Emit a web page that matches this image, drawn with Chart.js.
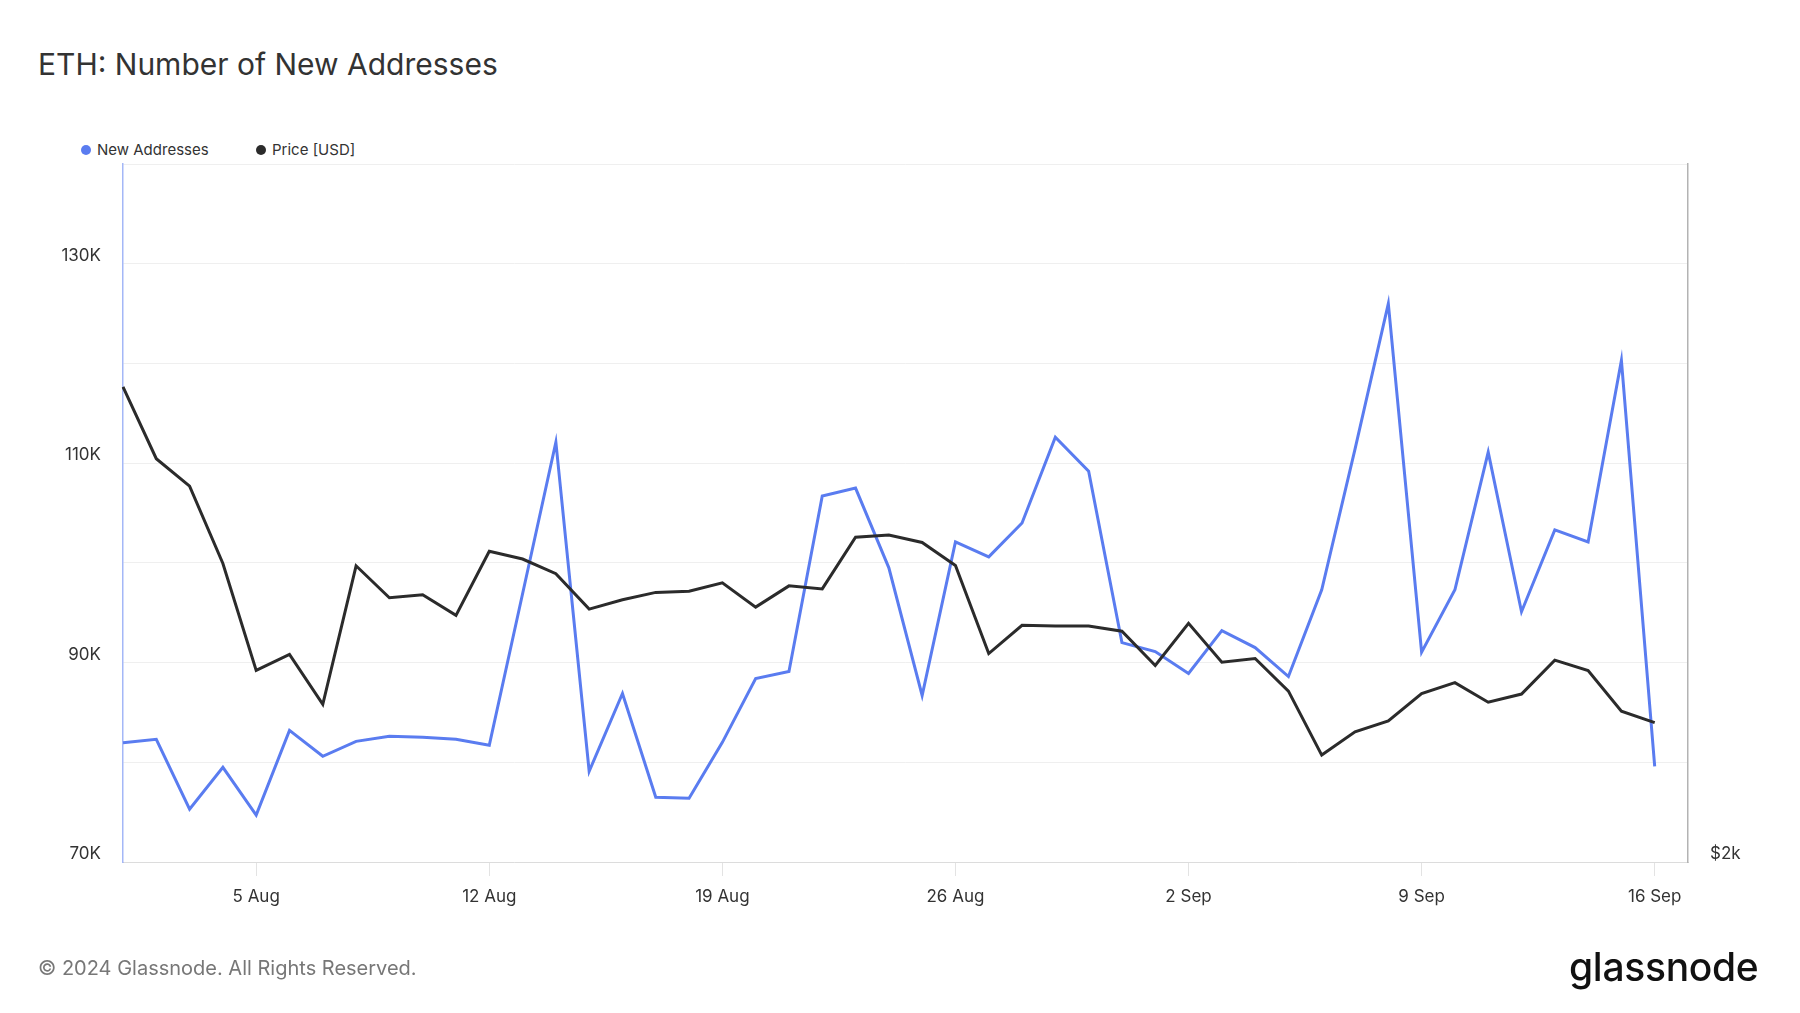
<!DOCTYPE html>
<html>
<head>
<meta charset="utf-8">
<script src="https://cdn.jsdelivr.net/npm/chart.js@4.4.1/dist/chart.umd.min.js"></script>
<style>
    html, body { margin: 0; padding: 0; background: #fff; }
    body { width: 1800px; height: 1013px; position: relative; overflow: hidden; font-family: Inter, 'Noto Sans', sans-serif; }
    #chart { position: absolute; left: 0; top: 0; }
    .title { position: absolute; left: 38px; top: 46px; font-size: 30px; color: #333; }
    .legend { position: absolute; top: 140px; font-size: 15px; color: #333; display: flex; align-items: center; }
    .legend span.dot { width: 10px; height: 10px; border-radius: 50%; display: inline-block; margin-right: 6px; }
    .footer { position: absolute; left: 38px; top: 956px; font-size: 20px; color: #777; }
    .logo { position: absolute; left: 1569px; top: 943px; font-size: 39px; font-weight: 500; color: #111; letter-spacing: -0.3px; }
</style>
</head>
<body>
<div class="title">ETH: Number of New Addresses</div>
<div class="legend" style="left:81px"><span class="dot" style="background:#5a7cf0"></span>New Addresses</div>
<div class="legend" style="left:256px"><span class="dot" style="background:#2b2b2b"></span>Price [USD]</div>
<canvas id="chart" width="1800" height="1013"></canvas>
<div class="footer">© 2024 Glassnode. All Rights Reserved.</div>
<div class="logo">glassnode</div>

<script>
// Daily data, 1 Aug - 16 Sep 2024 (last slot left empty like the reference)
const days = [
    '1 Aug', '2 Aug', '3 Aug', '4 Aug', '5 Aug', '6 Aug', '7 Aug', '8 Aug', '9 Aug', '10 Aug',
    '11 Aug', '12 Aug', '13 Aug', '14 Aug', '15 Aug', '16 Aug', '17 Aug', '18 Aug', '19 Aug', '20 Aug',
    '21 Aug', '22 Aug', '23 Aug', '24 Aug', '25 Aug', '26 Aug', '27 Aug', '28 Aug', '29 Aug', '30 Aug',
    '31 Aug', '1 Sep', '2 Sep', '3 Sep', '4 Sep', '5 Sep', '6 Sep', '7 Sep', '8 Sep', '9 Sep',
    '10 Sep', '11 Sep', '12 Sep', '13 Sep', '14 Sep', '15 Sep', '16 Sep', '17 Sep'
];
const tickDays = ['5 Aug', '12 Aug', '19 Aug', '26 Aug', '2 Sep', '9 Sep', '16 Sep'];

const newAddresses = [
    81970, 82300, 75300, 79500, 74700, 83200, 80600, 82100, 82600, 82500,
    82300, 81700, 96900, 112100, 79100, 86900, 76500, 76400, 82000, 88400,
    89100, 106700, 107500, 99500, 86700, 102100, 100600, 104000, 112600, 109200,
    92000, 91100, 88900, 93200, 91500, 88600, 97300, 111400, 126000, 91050,
    97300, 111100, 95100, 103300, 102100, 120300, 79600, null
];
const priceUsd = [
    3206, 2985, 2905, 2690, 2419, 2458, 2339, 2684, 2600, 2608,
    2555, 2723, 2702, 2663, 2571, 2595, 2614, 2617, 2639, 2576,
    2631, 2623, 2761, 2767, 2747, 2685, 2460, 2530, 2528, 2528,
    2515, 2431, 2535, 2439, 2448, 2370, 2224, 2276, 2301, 2364,
    2390, 2344, 2363, 2444, 2419, 2323, 2297, null
];
const leftTickLabels = [70000, 90000, 110000, 130000];

const colors = {
    blue: '#5a7cf0',
    black: '#2b2b2b',
    grid: '#efefef',
    text: '#333'
};

Chart.defaults.font.family = 'Inter, "Noto Sans", sans-serif';
Chart.defaults.font.size = 17;
Chart.defaults.color = colors.text;

new Chart(document.getElementById('chart'), {
    type: 'line',
    data: {
        labels: days,
        datasets: [
            {
                label: 'Price [USD]',
                data: priceUsd,
                yAxisID: 'price',
                borderColor: colors.black,
                borderWidth: 3,
                pointRadius: 0,
                tension: 0
            },
            {
                label: 'New Addresses',
                data: newAddresses,
                yAxisID: 'y',
                borderColor: colors.blue,
                borderWidth: 3,
                pointRadius: 0,
                tension: 0
            }
        ]
    },
    options: {
        responsive: false,
        animation: false,
        layout: { padding: { top: 164, left: 0, right: 0, bottom: 0 } },
        plugins: {
            legend: { display: false },
            tooltip: { enabled: false }
        },
        scales: {
            x: {
                grid: {
                    drawOnChartArea: false,
                    tickLength: 14,
                    // tick marks only under the labelled Mondays
                    color: (ctx) => tickDays.includes(days[ctx.index]) ? '#e3e3e3' : 'rgba(0,0,0,0)'
                },
                border: { color: '#dcdcdc' },
                ticks: {
                    autoSkip: false,
                    maxRotation: 0,
                    padding: 11,
                    callback: function (value) {
                        const lbl = this.getLabelForValue(value);
                        return tickDays.includes(lbl) ? lbl : '';
                    }
                },
                afterFit: (scale) => { scale.height = 151; }
            },
            y: {
                position: 'left',
                min: 70000,
                max: 140000,
                grid: { color: colors.grid, drawTicks: false },
                border: { color: 'rgba(90, 124, 240, 0.55)', width: 1.5 },
                ticks: {
                    stepSize: 10000,
                    padding: 22,
                    labelOffset: -8,
                    callback: (value) => leftTickLabels.includes(value) ? (value / 1000) + 'K' : ''
                },
                afterFit: (scale) => { scale.width = 123; }
            },
            price: {
                type: 'logarithmic',
                position: 'right',
                min: 2000,
                max: 4000,
                grid: { drawOnChartArea: false, drawTicks: false },
                border: { color: '#b3b3b3', width: 1.5 },
                ticks: {
                    padding: 22,
                    labelOffset: -8,
                    callback: (value) => '$' + (value / 1000) + 'k'
                },
                afterBuildTicks: (scale) => { scale.ticks = [{ value: 2000 }]; },
                afterFit: (scale) => { scale.width = 112; }
            }
        }
    }
});
</script>
</body>
</html>
